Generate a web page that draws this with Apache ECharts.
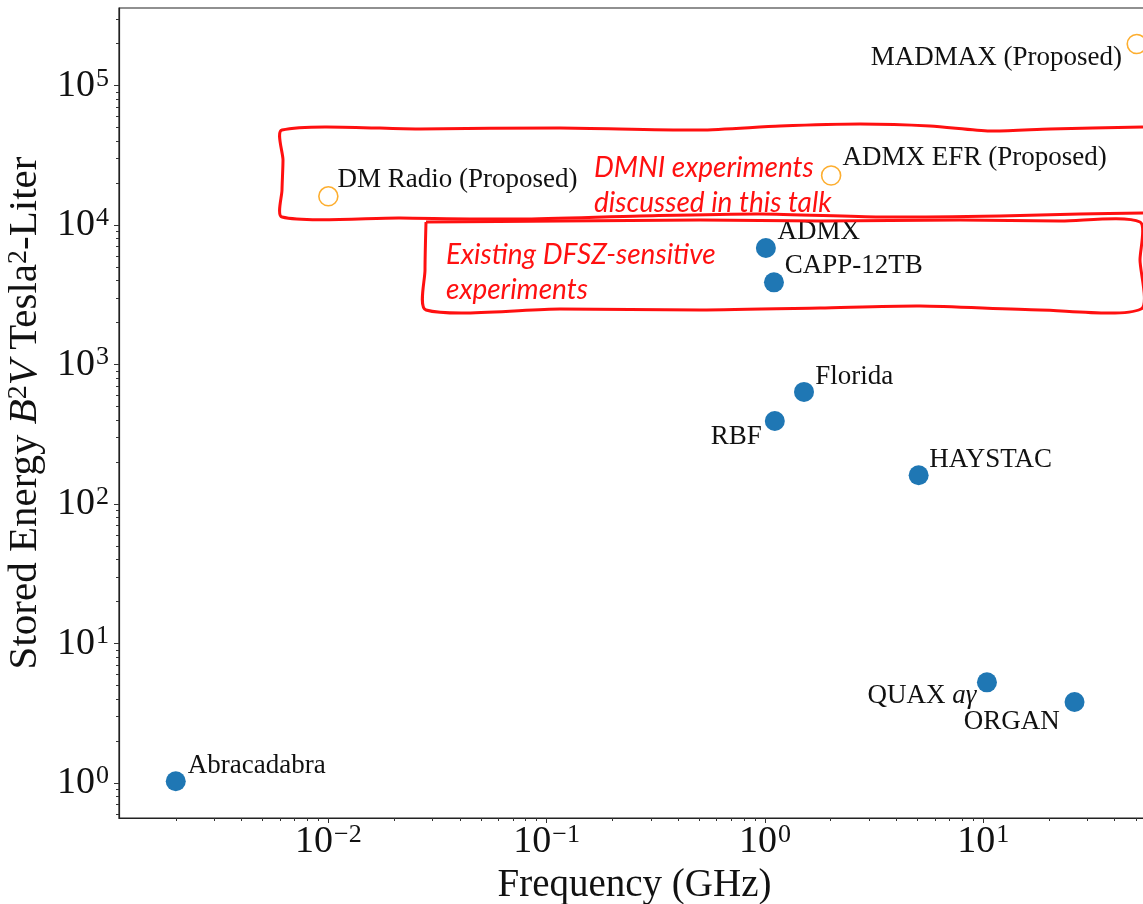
<!DOCTYPE html>
<html>
<head>
<meta charset="utf-8">
<style>
  html, body { margin: 0; padding: 0; background: #fff; }
  #chart { width: 1143px; height: 904px; }
</style>
<script src="https://cdn.jsdelivr.net/npm/echarts@6/dist/echarts.min.js"></script>
</head>
<body>
<div id="chart"></div>
<script>
// Operating experiments (filled markers)
const existingNames = ['Abracadabra', 'ADMX', 'CAPP-12TB', 'Florida', 'RBF', 'HAYSTAC', 'QUAX aγ', 'ORGAN'];
const existingFreqGHz = [0.002, 1.01, 1.10, 1.51, 1.11, 5.06, 10.4, 26.2];
const existingEnergy = [1.03, 6860, 3890, 637, 394, 161, 5.27, 3.81];

// Proposed experiments (open markers)
const proposedNames = ['DM Radio (Proposed)', 'ADMX EFR (Proposed)', 'MADMAX (Proposed)'];
const proposedFreqGHz = [0.01, 2.01, 50.5];
const proposedEnergy = [16100, 22700, 199000];

// Decade tick values
const xMajorTicks = [1e-2, 1e-1, 1, 10];
const yMajorTicks = [1, 10, 100, 1e3, 1e4, 1e5];

// Annotation text
const dmniLines = ['DMNI experiments', 'discussed in this talk'];
const dfszLines = ['Existing DFSZ-sensitive', 'experiments'];

// ---- layout / style ----
const SERIF = '"Liberation Serif", "DejaVu Serif", serif';
const BLUE = '#1f77b4';
const ORANGE = '#fdae2f';
const RED = '#ff1010';
const INK = '#111111';

const X_MIN = Math.pow(10, -2.959), X_MAX = Math.pow(10, 1.764);
const Y_MIN = Math.pow(10, -0.251), Y_MAX = Math.pow(10, 5.557);

// label anchor offsets from each marker centre: [dx, dy, align]
const existingLabelPos = [
  [12, -15, 'left'], [11.6, -16.5, 'left'], [10.7, -16.5, 'left'], [11.3, -15.5, 'left'],
  [-13, 15.7, 'right'], [10.6, -15.7, 'left'], [-10.6, 14, 'right'], [-14.7, 20.4, 'right']
];
const proposedLabelPos = [[10, -16, 'left'], [12.3, -16.4, 'left'], [-14, 15, 'right']];

function minorTicks(lo, hi) {
  const out = [];
  for (let k = Math.floor(Math.log10(lo)) - 1; k <= Math.ceil(Math.log10(hi)); k++) {
    for (let m = 2; m <= 9; m++) {
      const v = m * Math.pow(10, k);
      if (v >= lo && v <= hi) out.push(v);
    }
  }
  return out;
}

function powLabel(v) {
  const e = Math.round(Math.log10(v));
  return '{b|10}{s|' + (e < 0 ? '\u2212' + (-e) : e) + '}';
}
const tickRich = {
  b: { fontFamily: SERIF, fontSize: 38, color: INK, lineHeight: 40 },
  s: { fontFamily: SERIF, fontSize: 26, color: INK, verticalAlign: 'top', lineHeight: 26, padding: [0, 0, 0, 1] }
};

function makePoints(names, xs, ys, pos, size) {
  return names.map((n, i) => {
    const p = pos[i];
    return {
      name: n,
      value: [xs[i], ys[i]],
      label: {
        position: [size / 2 + p[0], size / 2 + p[1]],
        align: p[2],
        verticalAlign: 'middle'
      }
    };
  });
}

const labelText = {
  show: true,
  fontFamily: SERIF,
  fontSize: 27,
  color: INK,
  opacity: 1,
  formatter: p => p.name.indexOf('aγ') >= 0 ? 'QUAX {i|aγ}' : p.name,
  rich: { i: { fontFamily: SERIF, fontStyle: 'italic', fontSize: 27, color: INK } }
};

// hand-drawn style outline boxes
const dmniBox = [[1143, 127], [1050, 129], [990, 131], [930, 126], [860, 124], [780, 126], [700, 130],
  [560, 128], [420, 129], [282, 130], [283, 160], [282, 190], [282, 217], [400, 218], [520, 219],
  [640, 216], [760, 214], [880, 217], [1000, 216], [1080, 214], [1143, 213]];
const dfszBox = [[426, 222], [560, 221], [700, 220], [820, 221], [960, 220], [1060, 221], [1140, 222],
  [1140, 260], [1141, 309], [1040, 310], [920, 306], [820, 308], [700, 310], [560, 309], [426, 310],
  [425, 270], [426, 222]];

const chart = echarts.init(document.getElementById('chart'), null, { renderer: 'canvas' });

const option = {
  animation: false,
  backgroundColor: '#ffffff',
  grid: {
    left: 119, top: 8, width: 1031, height: 810,
    show: true, borderColor: '#222', borderWidth: 1.2,
    containLabel: false, outerBoundsMode: 'none'
  },
  xAxis: [
    {
      type: 'log', min: X_MIN, max: X_MAX, position: 'bottom',
      name: 'Frequency (GHz)', nameLocation: 'middle', nameGap: 48,
      nameTextStyle: { fontFamily: SERIF, fontSize: 39, color: INK },
      axisLine: { show: true, lineStyle: { color: '#222', width: 1.2 } },
      axisTick: { show: true, inside: false, length: 5, lineStyle: { color: '#333' }, customValues: xMajorTicks },
      axisLabel: { show: true, margin: 4, customValues: xMajorTicks, formatter: powLabel, rich: tickRich },
      splitLine: { show: false }, minorTick: { show: false }
    },
    {
      type: 'log', min: X_MIN, max: X_MAX, position: 'bottom', gridIndex: 0,
      axisLine: { show: false },
      axisTick: { show: true, inside: false, length: 3, lineStyle: { color: '#333' }, customValues: minorTicks(X_MIN, X_MAX) },
      axisLabel: { show: false }, splitLine: { show: false }
    }
  ],
  yAxis: [
    {
      type: 'log', min: Y_MIN, max: Y_MAX, position: 'left',
      name: 'Stored Energy {i|B}{s|2}{i|V} Tesla{s|2}-Liter', nameLocation: 'middle', nameGap: 59, nameRotate: 90,
      nameTextStyle: {
        fontFamily: SERIF, fontSize: 41, color: INK,
        rich: {
          i: { fontFamily: SERIF, fontSize: 41, fontStyle: 'italic', color: INK },
          s: { fontFamily: SERIF, fontSize: 28, color: INK, verticalAlign: 'top' }
        }
      },
      axisLine: { show: true, lineStyle: { color: '#222', width: 1.2 } },
      axisTick: { show: true, inside: false, length: 5, lineStyle: { color: '#333' }, customValues: yMajorTicks },
      axisLabel: { show: true, margin: 10, customValues: yMajorTicks, formatter: powLabel, rich: tickRich },
      splitLine: { show: false }, minorTick: { show: false }
    },
    {
      type: 'log', min: Y_MIN, max: Y_MAX, position: 'left', gridIndex: 0,
      axisLine: { show: false },
      axisTick: { show: true, inside: false, length: 3, lineStyle: { color: '#333' }, customValues: minorTicks(Y_MIN, Y_MAX) },
      axisLabel: { show: false }, splitLine: { show: false }
    }
  ],
  series: [
    {
      name: 'Existing', type: 'scatter', xAxisIndex: 0, yAxisIndex: 0,
      symbol: 'circle', symbolSize: 20,
      itemStyle: { color: BLUE, opacity: 1 },
      label: labelText,
      data: makePoints(existingNames, existingFreqGHz, existingEnergy, existingLabelPos, 20),
      z: 3
    },
    {
      name: 'Proposed', type: 'scatter', xAxisIndex: 0, yAxisIndex: 0,
      symbol: 'circle', symbolSize: 19,
      itemStyle: { color: 'rgba(0,0,0,0)', borderColor: ORANGE, borderWidth: 1.6, opacity: 1 },
      label: labelText,
      data: makePoints(proposedNames, proposedFreqGHz, proposedEnergy, proposedLabelPos, 19),
      z: 3
    }
  ],
  graphic: [
    { type: 'polyline', shape: { points: dmniBox, smooth: 0.25 }, style: { stroke: RED, lineWidth: 3, fill: null }, z: 10 },
    { type: 'polyline', shape: { points: dfszBox, smooth: 0.25 }, style: { stroke: RED, lineWidth: 3, fill: null }, z: 10 },
    { type: 'text', left: 594, top: 150, z: 11,
      style: { text: dmniLines.join('\n'), fill: RED, font: 'italic 28px Lato, "Open Sans", sans-serif', lineHeight: 35 } },
    { type: 'text', left: 446, top: 237, z: 11,
      style: { text: dfszLines.join('\n'), fill: RED, font: 'italic 28px Lato, "Open Sans", sans-serif', lineHeight: 35 } }
  ]
};

chart.setOption(option);
</script>
</body>
</html>
